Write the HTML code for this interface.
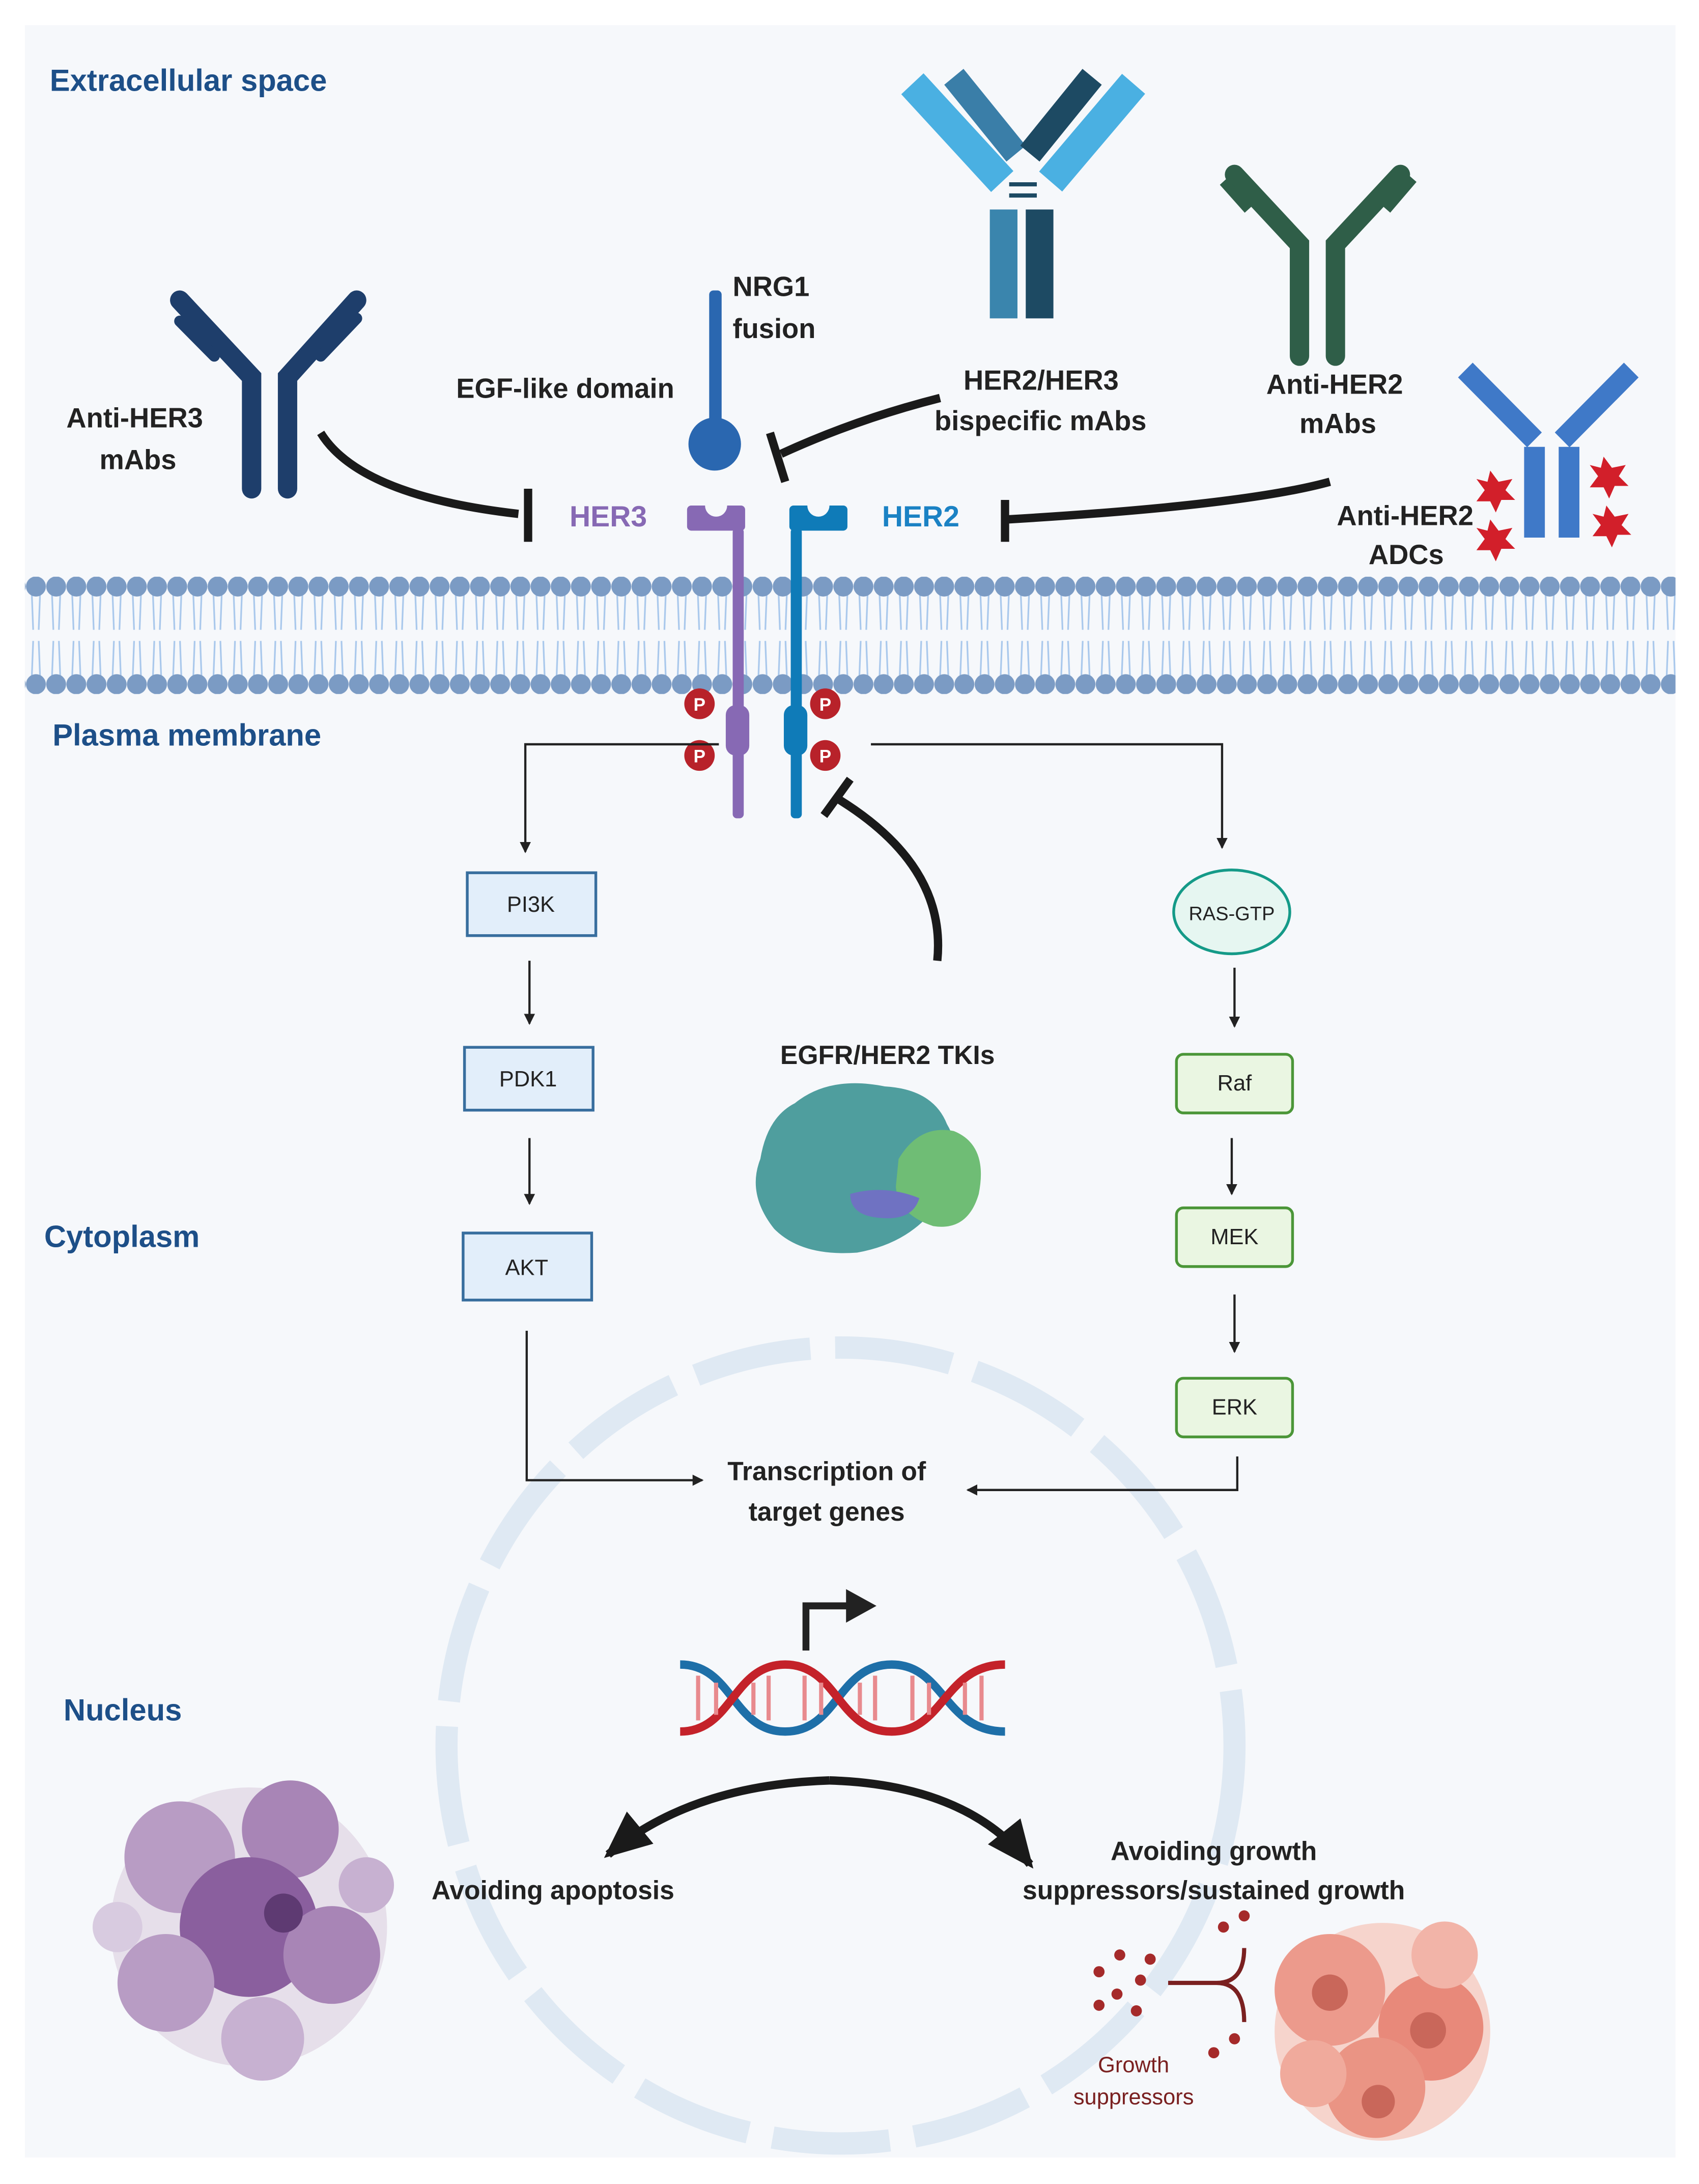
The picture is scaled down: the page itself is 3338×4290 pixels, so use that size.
<!DOCTYPE html>
<html><head><meta charset="utf-8"><style>
html,body{margin:0;padding:0;background:#fff;}
svg{display:block;}
text{font-family:"Liberation Sans",Arial,sans-serif;}
</style></head><body>
<svg width="3338" height="4290" viewBox="0 0 1229 1564" preserveAspectRatio="none" xmlns="http://www.w3.org/2000/svg">
<defs>
<marker id="ah" markerWidth="8" markerHeight="8" refX="7" refY="4" orient="auto" markerUnits="userSpaceOnUse"><path d="M0,0 L8,4 L0,8 Z" fill="#222"/></marker>
<marker id="big" markerWidth="34" markerHeight="30" refX="30" refY="15" orient="auto" markerUnits="userSpaceOnUse"><path d="M0,0 L34,15 L0,30 Z" fill="#1a1a1a"/></marker>
<pattern id="mem" x="18.7" y="413" width="14.6" height="84" patternUnits="userSpaceOnUse">
<path d="M4.3,12 L5.3,38 M10.3,12 L9.3,38 M4.3,72 L5.3,46 M10.3,72 L9.3,46" stroke="#a9c8ec" stroke-width="1.2" fill="none"/>
<circle cx="7.3" cy="7" r="7.2" fill="#7b9bc4"/>
<circle cx="7.3" cy="77" r="7.2" fill="#7b9bc4"/>
</pattern>
</defs>
<rect width="1229" height="1564" fill="#fff"/>
<rect x="18" y="18" width="1194" height="1527" fill="#f6f8fb"/>

<!-- membrane -->
<rect x="18" y="413" width="1194" height="84" fill="url(#mem)"/>

<!-- nucleus -->
<circle cx="608" cy="1250" r="285" fill="none" stroke="#dfe9f3" stroke-width="16" stroke-dasharray="85 18"/>

<!-- region labels -->
<g font-weight="bold" fill="#1d4f88" font-size="22">
<text x="36" y="65">Extracellular space</text>
<text x="38" y="534">Plasma membrane</text>
<text x="32" y="893">Cytoplasm</text>
<text x="46" y="1232">Nucleus</text>
</g>

<!-- receptors -->
<rect x="497" y="362" width="42" height="18" rx="3" fill="#8769b4"/>
<circle cx="518" cy="362" r="8" fill="#f6f8fb"/>
<rect x="530" y="378" width="8" height="208" rx="3" fill="#8769b4"/>
<rect x="525" y="505" width="17" height="36" rx="7" fill="#8769b4"/>
<rect x="571" y="362" width="42" height="18" rx="3" fill="#0f7bb8"/>
<circle cx="592" cy="362" r="8" fill="#f6f8fb"/>
<rect x="572" y="378" width="8" height="208" rx="3" fill="#0f7bb8"/>
<rect x="567" y="505" width="17" height="36" rx="7" fill="#0f7bb8"/>
<text x="412" y="377" font-size="21" font-weight="bold" fill="#8769b4">HER3</text>
<text x="638" y="377" font-size="21" font-weight="bold" fill="#1b82c4">HER2</text>
<g font-size="13" fill="#fff" font-weight="bold" text-anchor="middle">
<circle cx="506" cy="504" r="11" fill="#b8222a"/><text x="506" y="509">P</text>
<circle cx="506" cy="541" r="11" fill="#b8222a"/><text x="506" y="546">P</text>
<circle cx="597" cy="504" r="11" fill="#b8222a"/><text x="597" y="509">P</text>
<circle cx="597" cy="541" r="11" fill="#b8222a"/><text x="597" y="546">P</text>
</g>

<!-- NRG1 -->
<rect x="513" y="208" width="9" height="100" rx="3" fill="#2a67b0"/>
<circle cx="517" cy="318" r="19" fill="#2a67b0"/>
<g font-weight="bold" font-size="20" fill="#222">
<text x="530" y="212">NRG1</text>
<text x="530" y="242">fusion</text>
<text x="330" y="285">EGF-like domain</text>
<text x="48" y="306">Anti-HER3</text>
<text x="72" y="336">mAbs</text>
<text x="697" y="279">HER2/HER3</text>
<text x="676" y="308">bispecific mAbs</text>
<text x="916" y="282">Anti-HER2</text>
<text x="940" y="310">mAbs</text>
<text x="967" y="376">Anti-HER2</text>
<text x="990" y="404">ADCs</text>
</g>

<!-- Anti-HER3 antibody -->
<g stroke-linecap="round" fill="none">
<path d="M182,350 V270 L130,215 M208,350 V270 L258,215" stroke="#1e3e6b" stroke-width="14"/>
<path d="M155,255 L130,230 M232,255 L258,228" stroke="#1e3e6b" stroke-width="8"/>
</g>
<!-- bispecific -->
<g stroke-linecap="butt" fill="none">
<path d="M660,60 L725,130" stroke="#4ab0e2" stroke-width="22"/>
<path d="M690,55 L735,110" stroke="#3a7ea8" stroke-width="18"/>
<path d="M820,60 L760,130" stroke="#4ab0e2" stroke-width="22"/>
<path d="M790,55 L745,110" stroke="#1d4a63" stroke-width="18"/>
<path d="M726,150 V228" stroke="#3a85ad" stroke-width="20"/>
<path d="M752,150 V228" stroke="#1d4a63" stroke-width="20"/>
<path d="M730,132 H750 M730,140 H750" stroke="#1d4a63" stroke-width="3"/>
</g>
<!-- Anti-HER2 mAb -->
<g fill="none" stroke="#2f5e48" stroke-width="14" stroke-linecap="round">
<path d="M940,255 V175 L893,125 M966,255 V175 L1013,125"/>
</g>
<g fill="none" stroke="#2f5e48" stroke-width="7"><path d="M903,150 L885,130 M1003,150 L1022,128"/></g>
<!-- ADC -->
<g fill="none" stroke="#3f79c8" stroke-width="15">
<path d="M1060,265 L1110,315 M1180,265 L1130,315"/>
<path d="M1110,320 V385 M1135,320 V385"/>
</g>
<g fill="#d21f2a">
<polygon points="1078,337 1084,345 1094,343 1089,351 1096,358 1086,358 1082,367 1078,359 1068,359 1074,351 1068,343 1076,345"/>
<polygon points="1160,327 1166,335 1176,333 1171,341 1178,348 1168,348 1164,357 1160,349 1150,349 1156,341 1150,333 1158,335"/>
<polygon points="1078,372 1084,380 1094,378 1089,386 1096,393 1086,393 1082,402 1078,394 1068,394 1074,386 1068,378 1076,380"/>
<polygon points="1162,362 1168,370 1178,368 1173,376 1180,383 1170,383 1166,392 1162,384 1152,384 1158,376 1152,368 1160,370"/>
</g>

<!-- inhibition lines -->
<g fill="none" stroke="#1a1a1a" stroke-width="6">
<path d="M232,310 Q260,355 375,368"/>
<path d="M382,350 V388"/>
<path d="M680,285 Q620,300 565,325"/>
<path d="M557,310 L568,345"/>
<path d="M962,345 Q900,362 728,372"/>
<path d="M727,358 V388"/>
<path d="M678,688 Q685,620 606,572"/>
<path d="M596,584 L615,558"/>
</g>

<!-- pathway arrows -->
<g fill="none" stroke="#222" stroke-width="1.6">
<path d="M520,533 H380 V610" marker-end="url(#ah)"/>
<path d="M630,533 H884 V607" marker-end="url(#ah)"/>
<path d="M383,688 V733" marker-end="url(#ah)"/>
<path d="M383,815 V862" marker-end="url(#ah)"/>
<path d="M893,693 V735" marker-end="url(#ah)"/>
<path d="M891,815 V855" marker-end="url(#ah)"/>
<path d="M893,927 V968" marker-end="url(#ah)"/>
<path d="M381,953 V1060 H508" marker-end="url(#ah)"/>
<path d="M895,1043 V1067 H700" marker-end="url(#ah)"/>
</g>

<!-- boxes -->
<g font-size="16" fill="#222" text-anchor="middle">
<rect x="338" y="625" width="93" height="45" fill="#e2eefa" stroke="#386e9e" stroke-width="2"/><text x="384" y="653">PI3K</text>
<rect x="336" y="750" width="93" height="45" fill="#e2eefa" stroke="#386e9e" stroke-width="2"/><text x="382" y="778">PDK1</text>
<rect x="335" y="883" width="93" height="48" fill="#e2eefa" stroke="#386e9e" stroke-width="2"/><text x="381" y="913">AKT</text>
<ellipse cx="891" cy="653" rx="42" ry="30" fill="#e6f6f1" stroke="#159a88" stroke-width="2"/><text x="891" y="659" font-size="14">RAS-GTP</text>
<rect x="851" y="755" width="84" height="42" rx="5" fill="#eaf6e2" stroke="#4b9638" stroke-width="2"/><text x="893" y="781">Raf</text>
<rect x="851" y="865" width="84" height="42" rx="5" fill="#eaf6e2" stroke="#4b9638" stroke-width="2"/><text x="893" y="891">MEK</text>
<rect x="851" y="987" width="84" height="42" rx="5" fill="#eaf6e2" stroke="#4b9638" stroke-width="2"/><text x="893" y="1013">ERK</text>
</g>

<!-- TKI -->
<text x="642" y="762" font-size="19" font-weight="bold" fill="#222" text-anchor="middle">EGFR/HER2 TKIs</text>
<path d="M575,790 Q600,770 640,778 Q675,780 685,805 Q700,830 680,860 Q660,890 620,897 Q580,900 560,880 Q540,855 550,830 Q555,800 575,790 Z" fill="#4f9e9e"/>
<path d="M650,830 Q665,805 690,810 Q715,820 708,855 Q700,882 675,878 Q650,870 648,850 Z" fill="#6fbd75"/>
<path d="M615,855 Q640,848 665,858 Q660,875 635,872 Q615,870 615,855 Z" fill="#6f72c2"/>

<!-- Transcription -->
<g font-weight="bold" font-size="19" fill="#222" text-anchor="middle">
<text x="598" y="1060">Transcription of</text>
<text x="598" y="1089">target  genes</text>
</g>
<path d="M583,1182 V1150 H615" fill="none" stroke="#222" stroke-width="5"/>
<path d="M612,1138 L634,1150 L612,1162 Z" fill="#222"/>
<!-- DNA -->
<g fill="none" stroke-width="6">
<path d="M492,1192 C530,1192 530,1240 568,1240 C606,1240 606,1192 645,1192 C683,1192 683,1240 727,1240" stroke="#1e6fa8"/>
<path d="M492,1240 C530,1240 530,1192 568,1192 C606,1192 606,1240 645,1240 C683,1240 683,1192 727,1192" stroke="#c4222a"/>
</g>
<g stroke-width="3">
<path d="M505,1200 V1232 M518,1205 V1228 M545,1205 V1228 M556,1200 V1232 M582,1200 V1232 M594,1205 V1228 M622,1205 V1228 M633,1200 V1232 M660,1200 V1232 M672,1205 V1228 M698,1205 V1228 M710,1200 V1232" stroke="#e88a8e"/>
</g>

<!-- double arrow -->
<path d="M600,1275 Q500,1278 440,1328" fill="none" stroke="#1a1a1a" stroke-width="6" marker-end="url(#big)"/>
<path d="M600,1275 Q700,1278 745,1335" fill="none" stroke="#1a1a1a" stroke-width="6" marker-end="url(#big)"/>

<!-- apoptotic cells -->
<g>
<circle cx="180" cy="1380" r="100" fill="#e6dfea"/>
<circle cx="130" cy="1330" r="40" fill="#b89cc4"/>
<circle cx="210" cy="1310" r="35" fill="#a885b6"/>
<circle cx="180" cy="1380" r="50" fill="#8a5f9e"/>
<circle cx="240" cy="1400" r="35" fill="#a885b6"/>
<circle cx="120" cy="1420" r="35" fill="#b89cc4"/>
<circle cx="190" cy="1460" r="30" fill="#c7b1d1"/>
<circle cx="265" cy="1350" r="20" fill="#c7b1d1"/>
<circle cx="85" cy="1380" r="18" fill="#d8cbe0"/>
<circle cx="205" cy="1370" r="14" fill="#5e3a72"/>
</g>

<!-- growth suppressors -->
<g fill="#a52a2a">
<circle cx="795" cy="1412" r="4"/><circle cx="810" cy="1400" r="4"/><circle cx="825" cy="1418" r="4"/><circle cx="808" cy="1428" r="4"/><circle cx="832" cy="1403" r="4"/><circle cx="795" cy="1436" r="4"/><circle cx="822" cy="1440" r="4"/>
<circle cx="885" cy="1380" r="4"/><circle cx="900" cy="1372" r="4"/><circle cx="878" cy="1470" r="4"/><circle cx="893" cy="1460" r="4"/>
</g>
<path d="M845,1420 H880 Q900,1420 900,1395 M880,1420 Q900,1420 900,1448" fill="none" stroke="#7a2020" stroke-width="3"/>
<text x="820" y="1484" font-size="16" fill="#7a2020" text-anchor="middle">Growth</text>
<text x="820" y="1507" font-size="16" fill="#7a2020" text-anchor="middle">suppressors</text>
<!-- tumor cells -->
<g>
<circle cx="1000" cy="1455" r="78" fill="#f6d4cc"/>
<circle cx="962" cy="1425" r="40" fill="#ec9a8c"/>
<circle cx="1035" cy="1452" r="38" fill="#e8897a"/>
<circle cx="995" cy="1495" r="36" fill="#ea9484"/>
<circle cx="1045" cy="1400" r="24" fill="#f2b4a8"/>
<circle cx="950" cy="1485" r="24" fill="#f0aa9c"/>
<circle cx="962" cy="1427" r="13" fill="#c9675a"/>
<circle cx="1033" cy="1454" r="13" fill="#c9675a"/>
<circle cx="997" cy="1505" r="12" fill="#c9675a"/>
</g>

<g font-weight="bold" font-size="19" fill="#222" text-anchor="middle">
<text x="400" y="1360">Avoiding apoptosis</text>
<text x="878" y="1332">Avoiding growth</text>
<text x="878" y="1360">suppressors/sustained growth</text>
</g>
</svg>
</body></html>
